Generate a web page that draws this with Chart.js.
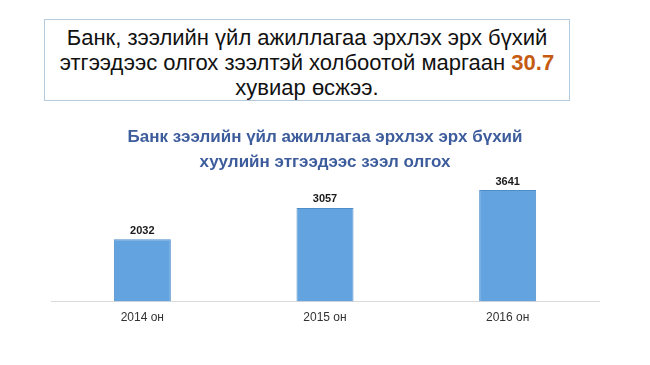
<!DOCTYPE html>
<html lang="mn">
<head>
<meta charset="UTF-8" />
<title>Банк зээлийн үйл ажиллагаа</title>
<script src="https://cdn.jsdelivr.net/npm/chart.js"></script>
<style>
  html, body {
    margin: 0;
    padding: 0;
    background: #fff;
    width: 650px;
    height: 365px;
    overflow: hidden;
    font-family: "Liberation Sans", Arial, sans-serif;
  }
  .headline {
    position: absolute;
    left: 44px;
    top: 19px;
    width: 524px;
    height: 75px;
    border: 1px solid #b3cbdc;
    padding-top: 5px;
    text-align: center;
    font-size: 22px;
    line-height: 25px;
    color: #111;
  }
  .headline b {
    color: #c55a11;
  }
  .wrap {
    position: absolute;
    left: 0;
    top: 105px;
    width: 650px;
    height: 260px;
  }
</style>
</head>
<body>

<div class="headline">Банк, зээлийн үйл ажиллагаа эрхлэх эрх бүхий<br>этгээдээс олгох зээлтэй холбоотой маргаан <b>30.7</b><br>хувиар өсжээ.</div>

<div class="wrap"><canvas id="loanChart"></canvas></div>

<script>
  const years = ['2014 он', '2015 он', '2016 он'];
  const cases = [2032, 3057, 3641];
  const titleLines = ['Банк зээлийн үйл ажиллагаа эрхлэх эрх бүхий', 'хуулийн этгээдээс зээл олгох'];

  // draws the number above each bar
  const valueLabels = {
    id: 'valueLabels',
    afterDatasetsDraw(chart) {
      const ctx = chart.ctx;
      const meta = chart.getDatasetMeta(0);
      ctx.save();
      ctx.font = 'bold 11px "Liberation Sans", Arial, sans-serif';
      ctx.fillStyle = '#1a1a1a';
      ctx.textAlign = 'center';
      ctx.textBaseline = 'bottom';
      meta.data.forEach((bar, i) => {
        ctx.fillText(cases[i], bar.x, bar.y - 3);
      });
      ctx.restore();
    }
  };

  const ctx = document.getElementById('loanChart').getContext('2d');

  new Chart(ctx, {
    type: 'bar',
    data: {
      labels: years,
      datasets: [{
        data: cases,
        backgroundColor: '#62a3e0',
        borderColor: '#4f8dc9',
        borderWidth: 1,
        categoryPercentage: 1,
        barPercentage: 0.312
      }]
    },
    options: {
      responsive: true,
      maintainAspectRatio: false,
      animation: false,
      layout: {
        padding: { left: 51, right: 51, top: 0, bottom: 31 }
      },
      plugins: {
        legend: { display: false },
        tooltip: { enabled: false },
        title: {
          display: true,
          text: titleLines,
          color: '#3d5c9c',
          font: { family: '"Liberation Sans", Arial, sans-serif', size: 17, weight: 'bold', lineHeight: '25px' },
          padding: { top: 20, bottom: 4 }
        }
      },
      scales: {
        x: {
          grid: { display: false, drawTicks: false },
          border: { display: true, color: '#d9d9d9', width: 1 },
          ticks: {
            color: '#333',
            padding: 9,
            font: { family: '"Liberation Sans", Arial, sans-serif', size: 12 }
          }
        },
        y: {
          display: false,
          min: 0,
          max: 4000
        }
      }
    },
    plugins: [valueLabels]
  });
</script>

</body>
</html>
